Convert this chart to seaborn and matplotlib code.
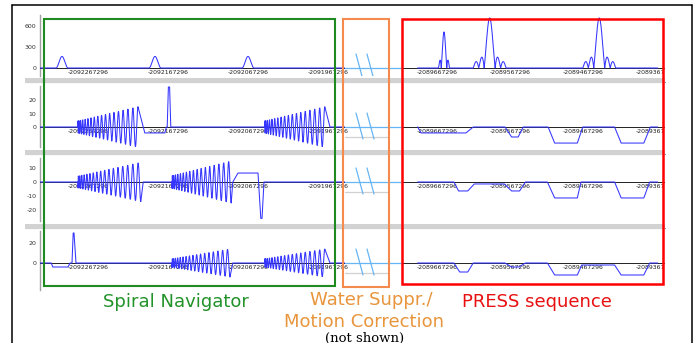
import numpy as np
import pandas as pd
import matplotlib
matplotlib.use("Agg")
import matplotlib.pyplot as plt
import seaborn as sns
from matplotlib.patches import Rectangle
from matplotlib.lines import Line2D

W, H = 695, 343

# ---- axis labels ----
left_ticks = [0, 100, 200, 300]
left_labels = ['-2092267296', '-2092167296', '-2092067296', '-2091967296']
right_ticks = [0, 100, 200, 300]
right_labels = ['-2089667296', '-2089567296', '-2089467296', '-2089367296']
row_yticks = [[0, 300, 600], [0, 10, 20], [-20, -10, 0, 10], [0, 20]]

# ---- row 1: RF ----
nav_rf_centers = [-7.5, 108.75, 225]
nav_rf_width = 15
nav_rf_amp = 165
press_rf_centers = [37.5, 100, 250]
press_rf_amps = [515, 715, 715]
press_rf_widths = [15, 45, 45]
press_rf_lobes = [2, 3, 3]

# ---- spiral readouts: (start, end, cycles, peak, phase) ----
gx_spirals = [(12.5, 87.5, 17, 15, 0.0), (246, 321, 17, 15, 0.0)]
gy_spirals = [(12.5, 91, 17, 14, np.pi), (130, 204, 17, 15, np.pi)]
gz_spirals = [(130, 202.5, 17, 14, np.pi), (246, 321, 17, 14, 0.0)]

# ---- gradient corner points (time, amplitude); None = end of a spiral ----
gx_nav_t = [87.5, 94, 96, 121, 123, 124, 125.5, 127, 128.5, 321, 327.5]
gx_nav_g = [None, 0, -4.4, -4.4, 0, 0, 29.6, 29.6, 0, None, 0]
gy_nav_t = [91, 94, 204, 206, 212.5, 237.5, 241, 242.5, 245]
gy_nav_g = [None, 0, None, 0, 6.4, 6.4, -26, -26, 0]
gz_nav_t = [-21, -19, 0, 2.5, 5, 6.5, 7.5, 10, 202.5, 206, 321, 327.5]
gz_nav_g = [0, -4, -4, 0, 0, 30, 30, 0, None, 0, None, 0]

gx_press_t = [1.5, 6, 67.5, 77.5, 121, 130, 139, 146, 180, 189, 220, 227.5, 271, 280, 311, 320]
gx_press_g = [0, -4.4, -4.4, 0, 0, -7.4, -7.4, 0, 0, -11.9, -11.9, 0, 0, -11.9, -11.9, 0]
gy_press_t = [51, 57.5, 70, 79, 120, 130, 141, 149, 179, 189, 220, 225, 271, 280, 311, 319]
gy_press_g = [0, -6.4, -6.4, -1.4, -1.4, -6.4, -6.4, 0, 0, -11.4, -11.4, 0, 0, -11.4, -11.4, 0]
gz_press_t = [51, 59, 70, 77.5, 121, 130, 140, 149, 179, 189, 220, 226, 271, 280, 311, 319]
gz_press_g = [0, -9, -9, 0, 0, -4, -4, 0, 0, -12, -12, -2, -2, -12, -12, 0]

# ---- layout (pixels) ----
row_top = [15, 86, 158, 231]
row_bottom = [76, 147, 221, 290]
row_base = [68, 127, 182, 263]
row_scale = [0.07, 1.35, 1.4, 1.0]   # px per unit
LEFT_X, BREAK_X0, BREAK_X1, RIGHT_X1 = 40, 345, 402, 665
PX_PER_T = 0.8
LEFT_T0, RIGHT_T0 = 68, 401

BLUE = '#3535ff'
LIGHT = '#66b5f5'


def spiral(t0, t1, ncyc, amp, phase):
    tau = np.linspace(0, 1, 900)
    env = 0.3 + 0.7 * tau
    theta = 2 * np.pi * ncyc * tau ** 0.68 + phase
    return [t0] + list(t0 + tau * (t1 - t0)), [0] + list(amp * env * np.cos(theta))


def gradient(spirals, ts, gs, lo, hi):
    xs, ys = [lo], [0]
    pts = sorted(zip(ts, gs), key=lambda p: p[0])
    for s in sorted(spirals):
        while pts and pts[0][0] < s[0]:
            t, g = pts.pop(0)
            if g is not None:
                xs.append(t); ys.append(g)
        sx, sy = spiral(*s)
        xs += sx; ys += sy
        if pts and pts[0][1] is None:
            pts.pop(0)
    for t, g in pts:
        if g is not None:
            xs.append(t); ys.append(g)
    xs.append(hi); ys.append(0)
    return pd.DataFrame({'t': xs, 'g': ys})


def nav_rf(lo, hi):
    xs, ys = [lo], [0]
    for c in nav_rf_centers:
        tau = np.linspace(0, 1, 60)
        xs += list(c - nav_rf_width / 2 + tau * nav_rf_width)
        ys += list(nav_rf_amp * np.sin(np.pi * tau) ** 2)
    xs.append(hi); ys.append(0)
    return pd.DataFrame({'t': xs, 'g': ys})


def press_rf(lo, hi):
    xs, ys = [lo], [0]
    for c, a, w, n in zip(press_rf_centers, press_rf_amps, press_rf_widths, press_rf_lobes):
        u = np.linspace(-n, n, 400)
        xs += list(c + u / n * w / 2)
        ys += list(a * np.abs(np.sinc(u)))
    xs.append(hi); ys.append(0)
    return pd.DataFrame({'t': xs, 'g': ys})


sns.set_style("white")
plt.rcParams['font.family'] = ['DejaVu Sans']
plt.rcParams['axes.unicode_minus'] = False
fig = plt.figure(figsize=(W / 100, H / 100), dpi=100)


def rect(x0, y0, x1, y1):
    return [x0 / W, 1 - y1 / H, (x1 - x0) / W, (y1 - y0) / H]


left_lim = ((LEFT_X - LEFT_T0) / PX_PER_T, (BREAK_X0 - LEFT_T0) / PX_PER_T)
right_lim = ((BREAK_X1 - RIGHT_T0) / PX_PER_T, (RIGHT_X1 - RIGHT_T0) / PX_PER_T)

left_data = [nav_rf(*left_lim),
             gradient(gx_spirals, gx_nav_t, gx_nav_g, *left_lim),
             gradient(gy_spirals, gy_nav_t, gy_nav_g, *left_lim),
             gradient(gz_spirals, gz_nav_t, gz_nav_g, *left_lim)]
right_data = [press_rf(*right_lim),
              gradient([], gx_press_t, gx_press_g, *right_lim),
              gradient([], gy_press_t, gy_press_g, *right_lim),
              gradient([], gz_press_t, gz_press_g, *right_lim)]


def style_xaxis(ax, ticks, labels):
    ax.spines['bottom'].set_position(('data', 0))
    ax.spines['bottom'].set_color('#222222')
    ax.spines['bottom'].set_linewidth(0.7)
    ax.spines['top'].set_visible(False)
    ax.spines['right'].set_visible(False)
    ax.set_xticks(ticks)
    ax.set_xticklabels(labels)
    ax.set_xticks(np.arange(-20, 341, 20), minor=True)
    ax.tick_params(axis='x', which='major', direction='in', length=2.4, width=0.6,
                   color='#333333', labelsize=4.4, pad=1.2, labelcolor='#222222')
    ax.tick_params(axis='x', which='minor', direction='in', length=1.2, width=0.5, color='#333333')
    for lab in ax.get_xticklabels():
        lab.set_horizontalalignment('left')
    ax.set_xlabel('')
    ax.set_ylabel('')
    ax.patch.set_alpha(0)


for i in range(4):
    top, bot, base, sc = row_top[i], row_bottom[i], row_base[i], row_scale[i]
    ylim = (-(bot - base) / sc, (base - top) / sc)

    axl = fig.add_axes(rect(LEFT_X, top, BREAK_X0, bot))
    sns.lineplot(data=left_data[i], x='t', y='g', ax=axl, color=BLUE, lw=0.75,
                 estimator=None, sort=False, zorder=3)
    axl.set_xlim(*left_lim)
    axl.set_ylim(*ylim)
    style_xaxis(axl, left_ticks, left_labels)
    axl.spines['left'].set_color('#a0a0a0')
    axl.spines['left'].set_linewidth(1.0)
    axl.set_yticks(row_yticks[i])
    axl.tick_params(axis='y', direction='out', length=1.5, width=0.5, color='#a0a0a0',
                    labelsize=4.5, pad=1, labelcolor='#333333')

    axb = fig.add_axes(rect(BREAK_X0, top, BREAK_X1, bot))
    axb.set_xlim(BREAK_X0, BREAK_X1)
    axb.set_ylim(-(bot - base), base - top)
    axb.plot([BREAK_X0, BREAK_X1], [0, 0], color=LIGHT, lw=0.9)
    if i > 0:
        axb.plot([BREAK_X0, 388], [-10, -10], color='#d0d0d0', lw=0.9)
    for x0 in (356, 367):
        axb.plot([x0, x0 + 7], [14, -12], color=LIGHT, lw=0.9)
    axb.set_axis_off()
    axb.patch.set_visible(True)
    axb.patch.set_facecolor('white')

    axr = fig.add_axes(rect(BREAK_X1, top, RIGHT_X1, bot))
    sns.lineplot(data=right_data[i], x='t', y='g', ax=axr, color=BLUE, lw=0.75,
                 estimator=None, sort=False, zorder=3)
    axr.set_xlim(*right_lim)
    axr.set_ylim(*ylim)
    style_xaxis(axr, right_ticks, right_labels)
    axr.spines['left'].set_visible(False)
    axr.set_yticks([])

# white margin that trims overflowing tick labels at the right
fig.patches.append(Rectangle((RIGHT_X1 / W, 1 - 295 / H), 24 / W, 285 / H,
                             transform=fig.transFigure, facecolor='white',
                             edgecolor='none', zorder=1))

# gray separators between the rows
for y in (78, 150, 224):
    fig.patches.append(Rectangle((25 / W, 1 - (y + 5) / H), 640 / W, 5 / H,
                                 transform=fig.transFigure, facecolor='#d2d2d2',
                                 edgecolor='none', zorder=2))
    fig.add_artist(Line2D([25 / W, 665 / W], [1 - (y + 4) / H] * 2, color='#8c8c8c',
                          lw=0.8, zorder=2))

# outer frame
frame = dict(color='black', lw=1.1, zorder=5)
fig.add_artist(Line2D([12 / W, 692 / W], [1 - 5 / H] * 2, **frame))
fig.add_artist(Line2D([12 / W] * 2, [0, 1 - 5 / H], **frame))
fig.add_artist(Line2D([692 / W] * 2, [0, 1 - 5 / H], **frame))

# section boxes
boxes = [((44, 19, 335, 286), '#1f8a1f', 1.5),
         ((343, 19, 389, 287), '#f58a4f', 1.5),
         ((402, 19, 663, 284), '#ff0000', 1.8)]
for (x0, y0, x1, y1), col, lw in boxes:
    fig.patches.append(Rectangle((x0 / W, 1 - y1 / H), (x1 - x0) / W, (y1 - y0) / H,
                                 transform=fig.transFigure, fill=False,
                                 edgecolor=col, lw=lw, zorder=6))

# section captions
fig.text(176 / W, 1 - 302 / H, 'Spiral Navigator', color='#22922a', fontsize=13,
         ha='center', va='center')
fig.text(371 / W, 1 - 300 / H, 'Water Suppr./', color='#e8953c', fontsize=13,
         ha='center', va='center')
fig.text(364 / W, 1 - 322 / H, 'Motion Correction', color='#e8953c', fontsize=13,
         ha='center', va='center')
fig.text(537 / W, 1 - 302 / H, 'PRESS sequence', color='#e81010', fontsize=13,
         ha='center', va='center')
fig.text(365 / W, 1 - 338 / H, '(not shown)', color='black', fontsize=9.5,
         family='DejaVu Serif', ha='center', va='center')

fig.savefig('out.png', dpi=100)
